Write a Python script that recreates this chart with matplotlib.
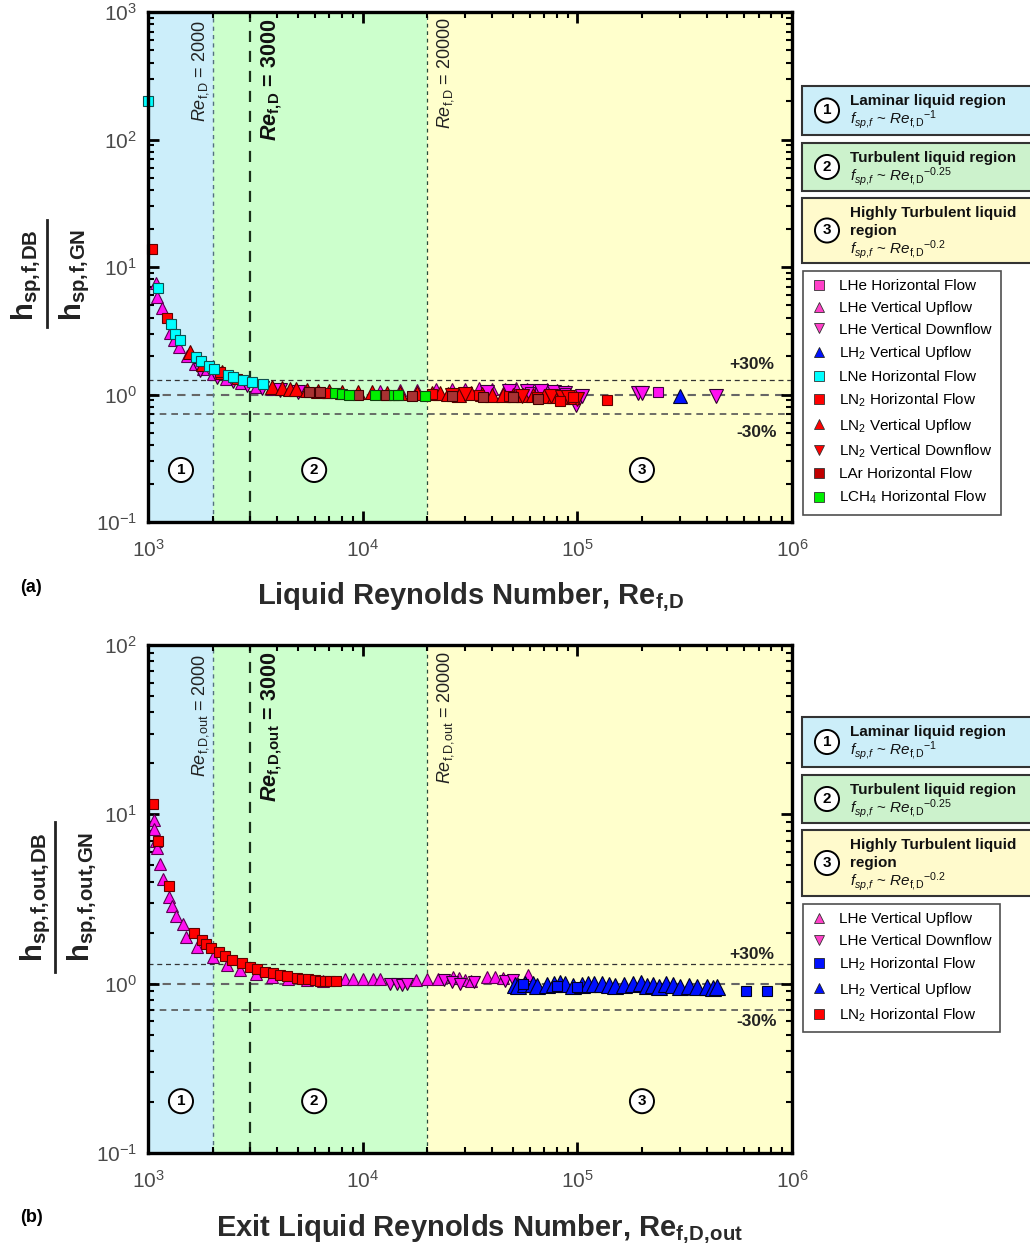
import matplotlib
matplotlib.use("Agg")
import matplotlib.pyplot as plt
from matplotlib.lines import Line2D
from matplotlib.patches import Rectangle

plt.rcParams['font.family'] = ['Liberation Sans', 'DejaVu Sans']
plt.rcParams['mathtext.fontset'] = 'custom'
plt.rcParams['mathtext.rm'] = 'Liberation Sans'
plt.rcParams['mathtext.it'] = 'Liberation Sans:italic'
plt.rcParams['mathtext.bf'] = 'Liberation Sans:bold'
plt.rcParams['mathtext.bfit'] = 'Liberation Sans:bold:italic'

## Data, panel (a)
lhe_hf_re = [60000, 88000, 238000]
lhe_hf_y = [1.04, 1.02, 1.05]
lhe_vu_re = [1090, 1105, 1162, 1270, 1320, 1400, 1520, 1650, 1800, 2000, 2300, 2700, 3200, 3800,
             12000, 15000, 18000, 22000, 26000, 30000, 35000, 40000, 46000, 52000, 58000, 65000,
             72000, 80000, 90000]
lhe_vu_y = [7.45, 5.85, 4.8, 3.05, 2.7, 2.37, 2.0, 1.75, 1.58, 1.45, 1.32, 1.22, 1.15, 1.1,
            1.07, 1.09, 1.08, 1.1, 1.11, 1.1, 1.12, 1.1, 1.11, 1.12, 1.1, 1.09, 1.1, 1.08, 1.06]
lhe_vd_re = [1750, 2100, 2500, 2900, 3400, 4100, 5000, 38000, 48000, 58000, 68000, 78000, 88000,
             99000, 105000, 192000, 199500, 442000]
lhe_vd_y = [1.55, 1.38, 1.27, 1.19, 1.13, 1.08, 1.05, 1.05, 1.06, 1.07, 1.06, 1.05, 1.03,
            0.83, 0.97, 1.02, 1.02, 0.98]
lh2_vu_re = [302000]
lh2_vu_y = [0.98]
lne_re = [1005, 1117, 1276, 1341, 1409, 1674, 1766, 1929, 2028, 2364, 2495, 2760, 3050, 3420]
lne_y = [200, 6.9, 3.55, 2.97, 2.67, 1.98, 1.83, 1.67, 1.59, 1.41, 1.37, 1.30, 1.26, 1.21]
ln2_hf_re = [1040, 1230, 2163, 2600, 6790, 21000, 35000, 48000, 64800, 83000, 95000, 137000]
ln2_hf_y = [13.8, 3.96, 1.51, 1.33, 1.02, 1.01, 0.99, 0.97, 0.95, 0.89, 0.95, 0.905]
ln2_vu_re = [1570, 1800, 2200, 3800, 4200, 4600, 4900, 5500, 6200, 7000, 8000, 9500, 11000,
             13000, 15000, 18000, 21000, 23000, 25000, 28000, 32000, 36000, 40000, 45000, 50000,
             56000, 62000, 70000, 78000, 86000, 95000]
ln2_vu_y = [2.17, 1.75, 1.5, 1.15, 1.13, 1.11, 1.1, 1.08, 1.07, 1.06, 1.05, 1.04, 1.04, 1.03,
            1.03, 1.02, 1.03, 1.02, 1.01, 1.0, 1.02, 1.01, 1.0, 1.0, 0.99, 1.0, 0.99, 0.98, 0.97,
            0.96, 0.96]
ln2_vd_re = [26000, 30000, 55000, 75000, 85000, 90000, 100000]
ln2_vd_y = [1.0, 1.01, 0.98, 0.97, 0.95, 0.96, 0.93]
lar_re = [5630, 6330, 9520, 12900, 16900, 26000, 36400, 50200, 65800]
lar_y = [1.05, 1.04, 1.0, 0.99, 0.98, 0.98, 0.95, 0.95, 0.93]
lch4_re = [7430, 8050, 8660, 11400, 14000, 14650, 19500]
lch4_y = [1.02, 1.01, 1.0, 0.99, 0.99, 0.99, 0.98]

## Data, panel (b)
lhe_vu2_re = [1066, 1070, 1085, 1100, 1137, 1178, 1251, 1290, 1345, 1460, 1508, 1683, 2015, 2323,
              2680, 3200, 3800, 4500, 5500, 6500, 8280, 9040, 10070, 11220, 12050, 17800, 19850,
              22500, 26400, 28000, 30000, 32000, 37900, 41300, 45200, 59000]
lhe_vu2_y = [9.26, 8.16, 7.0, 6.3, 5.09, 4.15, 3.27, 2.89, 2.51, 2.25, 1.89, 1.65, 1.44, 1.29,
             1.20, 1.14, 1.1, 1.07, 1.05, 1.04, 1.07, 1.07, 1.07, 1.07, 1.07, 1.05, 1.06, 1.07,
             1.1, 1.08, 1.05, 1.03, 1.09, 1.09, 1.08, 1.12]
lhe_vd2_re = [13400, 14500, 15200, 16070, 24000, 26000, 28500, 33000, 46000, 50000]
lhe_vd2_y = [0.99, 0.99, 0.98, 1.0, 1.05, 1.02, 1.0, 1.02, 1.03, 1.05]
lh2_hf2_re = [56000, 80000, 100000, 610000, 762000]
lh2_hf2_y = [0.99, 0.97, 0.96, 0.91, 0.91]
lh2_vu2_re = [51000, 53000, 57000, 62000, 65000, 72000, 78000, 83000, 88000, 95000, 105000,
              112000, 120000, 130000, 140000, 150000, 165000, 182000, 197000, 210000, 225000,
              240000, 260000, 280000, 300000, 330000, 360000, 400000, 430000, 447000]
lh2_vu2_y = [0.98, 0.97, 0.99, 1.0, 0.97, 0.98, 1.0, 1.01, 0.99, 0.97, 0.98, 0.99, 1.0, 0.99,
             0.98, 0.97, 0.98, 0.99, 1.01, 0.97, 0.98, 0.96, 1.0, 0.98, 0.96, 0.97, 0.95, 0.96,
             0.94, 0.95]
ln2_hf2_re = [1059, 1117, 1251, 1636, 1778, 1862, 1959, 2140, 2285, 2472, 2732, 3000, 3206, 3505,
              3804, 4100, 4423, 4927, 5200, 5580, 6000, 6325, 6700, 7045, 7515]
ln2_hf2_y = [11.5, 6.96, 3.78, 2.0, 1.80, 1.71, 1.63, 1.53, 1.46, 1.38, 1.32, 1.26, 1.22, 1.17,
             1.15, 1.13, 1.11, 1.08, 1.07, 1.06, 1.05, 1.04, 1.04, 1.03, 1.03]

MAG = '#FF10F0'
RED = '#FF0000'
BLUE = '#0010FF'

W, H = 1030, 1251


def fx(px):
    return px / W


def fy(py):
    return 1 - py / H


fig = plt.figure(figsize=(W / 100, H / 100), dpi=100)


def setup_axes(ax, ylim, sub):
    ax.set_xscale('log')
    ax.set_yscale('log')
    ax.set_xlim(1e3, 1e6)
    ax.set_ylim(*ylim)
    # region shading
    ax.axvspan(1e3, 2000, color='#CCEEFA', zorder=0, lw=0)
    ax.axvspan(2000, 20000, color='#CCFFCC', zorder=0, lw=0)
    ax.axvspan(20000, 1e6, color='#FFFFCC', zorder=0, lw=0)
    ax.axhline(1.3, color='#333333', ls=(0, (4, 3)), lw=0.9, zorder=1)
    ax.axhline(1.0, color='#666666', ls=(0, (4, 3)), lw=1.5, zorder=1)
    ax.axhline(0.7, color='#555555', ls=(0, (4, 3)), lw=1.2, zorder=1)
    ax.axvline(2000, color='#557080', ls=(0, (3, 3)), lw=1.0, zorder=1)
    ax.axvline(3000, color='#1a301a', ls=(0, (5, 4)), lw=1.6, zorder=1)
    ax.axvline(20000, color='#2a4a3a', ls=(0, (3, 3)), lw=0.9, zorder=1)
    for s in ax.spines.values():
        s.set_linewidth(2.4)
        s.set_zorder(5)
    ax.tick_params(which='both', direction='in', top=True, right=True, colors='black',
                   labelcolor='#4a4a4a', labelsize=15)
    ax.tick_params(which='major', length=8, width=2)
    ax.tick_params(which='minor', length=4.5, width=1.5)
    ax.tick_params(axis='x', which='major', pad=12)
    ax.tick_params(axis='y', which='major', pad=8)
    # vertical line labels
    ax.annotate(r'$Re_{\mathrm{f,\!' + sub + r'}}$ = 2000', xy=(2000, 1),
                xycoords=('data', 'axes fraction'), xytext=(-9, -6), textcoords='offset points',
                rotation=90, ha='center', va='top', fontsize=13, color='#222222')
    ax.annotate(r'$\mathbfit{Re}_{\mathbf{f,\!' + sub + r'}}$ = 3000', xy=(3000, 1),
                xycoords=('data', 'axes fraction'), xytext=(15, -5), textcoords='offset points',
                rotation=90, ha='center', va='top', fontsize=15.5, fontweight='bold',
                color='#111111')
    ax.annotate(r'$Re_{\mathrm{f,\!' + sub + r'}}$ = 20000', xy=(20000, 1),
                xycoords=('data', 'axes fraction'), xytext=(13, -4), textcoords='offset points',
                rotation=90, ha='center', va='top', fontsize=13, color='#222222')
    for xf, n in [(0.0512, '1'), (0.258, '2'), (0.767, '3')]:
        ax.text(xf, 0.102, n, transform=ax.transAxes, ha='center', va='center', fontsize=11,
                fontweight='bold', zorder=6,
                bbox=dict(boxstyle='circle,pad=0.33', fc='white', ec='black', lw=1.4))


def pts(ax, x, y, marker, fc, ec, ms):
    ax.plot(x, y, ls='none', marker=marker, mfc=fc, mec=ec, ms=ms, mew=0.8, clip_on=False,
            zorder=3)


def frac_label(xn, xb, xd, yc, ylo, yhi, num, den):
    fig.text(fx(xn), fy(yc), num, rotation=90, ha='center', va='center', fontsize=21,
             color='#222222')
    fig.text(fx(xd), fy(yc), den, rotation=90, ha='center', va='center', fontsize=21,
             color='#222222')
    fig.add_artist(Line2D([fx(xb), fx(xb)], [fy(ylo), fy(yhi)], transform=fig.transFigure,
                          color='#222222', lw=2))


def region_boxes(boxes):
    colors = ['#CCEEF9', '#CCF2CC', '#FFFACC']
    titles = [['Laminar liquid region'], ['Turbulent liquid region'],
              ['Highly Turbulent liquid', 'region']]
    expo = ['-1', '-0.25', '-0.2']
    for i, (y0, y1) in enumerate(boxes):
        fig.add_artist(Rectangle((fx(802), fy(y1)), fx(1040) - fx(802), (y1 - y0) / H,
                                 transform=fig.transFigure, fc=colors[i], ec='#333333', lw=1.5))
        fig.text(fx(827), fy((y0 + y1) / 2), str(i + 1), ha='center', va='center', fontsize=11,
                 fontweight='bold',
                 bbox=dict(boxstyle='circle,pad=0.33', fc='white', ec='black', lw=1.4))
        yy = y0 + 15
        for t in titles[i]:
            fig.text(fx(850), fy(yy), t, ha='left', va='center', fontsize=11,
                     fontweight='bold', color='#111111')
            yy += 18
        fig.text(fx(850), fy(yy + 1),
                 r'$f_{sp,\!f}$ ~ $Re_{\mathrm{f,\!D}}$$^{\mathrm{' + expo[i] + '}}$',
                 ha='left', va='center', fontsize=11, color='#111111')


def legend_handles(items):
    hs = []
    for marker, fc, ec, lab in items:
        hs.append(Line2D([], [], ls='none', marker=marker, mfc=fc, mec=ec, ms=7, mew=0.6,
                         label=lab))
    return hs


## Panel (a)
ax1 = fig.add_axes([fx(148), fy(522), 644 / W, 510 / H])
setup_axes(ax1, (0.1, 1000), 'D')
pts(ax1, lhe_vu_re, lhe_vu_y, '^', MAG, '#5a0050', 9)
pts(ax1, lhe_vd_re, lhe_vd_y, 'v', MAG, '#300030', 10)
pts(ax1, lhe_hf_re, lhe_hf_y, 's', MAG, '#400040', 7.5)
pts(ax1, lh2_vu_re, lh2_vu_y, '^', BLUE, '#000030', 10)
pts(ax1, ln2_vu_re, ln2_vu_y, '^', RED, '#500000', 10)
pts(ax1, ln2_vd_re, ln2_vd_y, 'v', RED, '#500000', 10)
pts(ax1, ln2_hf_re, ln2_hf_y, 's', RED, '#600000', 7.5)
pts(ax1, lar_re, lar_y, 's', '#A83232', '#400000', 7.5)
pts(ax1, lch4_re, lch4_y, 's', '#00F000', '#104010', 7.5)
pts(ax1, lne_re, lne_y, 's', '#00FFFF', '#105050', 7.5)
ax1.text(0.938, 0.308, '+30%', transform=ax1.transAxes, ha='center', va='center',
         fontsize=12.5, fontweight='bold', color='#222222')
ax1.text(0.945, 0.176, '-30%', transform=ax1.transAxes, ha='center', va='center',
         fontsize=12.5, fontweight='bold', color='#222222')

frac_label(27, 47, 75, 275, 220, 327, r'$\mathbf{h_{sp,\!f,\!DB}}$',
           r'$\mathbf{h_{sp,\!f,\!GN}}$')
fig.text(fx(471), fy(604), r'Liquid Reynolds Number, $\mathbf{Re_{f,\!D}}$', ha='center',
         va='baseline', fontsize=21, fontweight='bold', color='#2a2a2a')
fig.text(fx(20), fy(588), '(a)', ha='left', va='center', fontsize=13, fontweight='bold')

region_boxes([(86, 135), (143, 191), (198, 263)])
leg1 = fig.legend(handles=legend_handles([
    ('s', '#FF40C8', '#333333', 'LHe Horizontal Flow'),
    ('^', '#FF40C8', '#333333', 'LHe Vertical Upflow'),
    ('v', '#FF40C8', '#333333', 'LHe Vertical Downflow'),
    ('^', BLUE, '#222222', 'LH$_2$ Vertical Upflow'),
    ('s', '#00FFFF', '#333333', 'LNe Horizontal Flow'),
    ('s', RED, '#333333', 'LN$_2$ Horizontal Flow'),
    ('^', RED, '#333333', 'LN$_2$ Vertical Upflow'),
    ('v', RED, '#333333', 'LN$_2$ Vertical Downflow'),
    ('s', '#C00000', '#333333', 'LAr Horizontal Flow'),
    ('s', '#00F000', '#333333', 'LCH$_4$ Horizontal Flow'),
]), loc='upper left', bbox_to_anchor=(fx(803), fy(271)), frameon=True, fancybox=False,
    edgecolor='#222222', fontsize=11, labelspacing=0.5, handlelength=1.0, handletextpad=0.8,
    borderpad=0.55, borderaxespad=0)
leg1.get_frame().set_linewidth(1.2)

## Panel (b)
ax2 = fig.add_axes([fx(148), fy(1153), 644 / W, 508 / H])
setup_axes(ax2, (0.1, 100), 'D,\!out')
pts(ax2, lhe_vu2_re, lhe_vu2_y, '^', MAG, '#5a0050', 9)
pts(ax2, lhe_vd2_re, lhe_vd2_y, 'v', MAG, '#300030', 9)
pts(ax2, ln2_hf2_re, ln2_hf2_y, 's', RED, '#600000', 7.5)
pts(ax2, lh2_vu2_re, lh2_vu2_y, '^', BLUE, '#000020', 11)
pts(ax2, lh2_hf2_re, lh2_hf2_y, 's', BLUE, '#000020', 7.5)
ax2.text(0.938, 0.390, '+30%', transform=ax2.transAxes, ha='center', va='center',
         fontsize=12.5, fontweight='bold', color='#222222')
ax2.text(0.945, 0.258, '-30%', transform=ax2.transAxes, ha='center', va='center',
         fontsize=12.5, fontweight='bold', color='#222222')

frac_label(36, 55, 83, 897, 822, 972, r'$\mathbf{h_{sp,\!f,\!out,\!DB}}$',
           r'$\mathbf{h_{sp,\!f,\!out,\!GN}}$')
fig.text(fx(480), fy(1236), r'Exit Liquid Reynolds Number, $\mathbf{Re_{f,\!D,\!out}}$',
         ha='center', va='baseline', fontsize=21, fontweight='bold', color='#2a2a2a')
fig.text(fx(20), fy(1218), '(b)', ha='left', va='center', fontsize=13, fontweight='bold')

region_boxes([(717, 767), (775, 823), (830, 896)])
leg2 = fig.legend(handles=legend_handles([
    ('^', '#FF40C8', '#333333', 'LHe Vertical Upflow'),
    ('v', '#FF40C8', '#333333', 'LHe Vertical Downflow'),
    ('s', BLUE, '#222222', 'LH$_2$ Horizontal Flow'),
    ('^', BLUE, '#222222', 'LH$_2$ Vertical Upflow'),
    ('s', RED, '#333333', 'LN$_2$ Horizontal Flow'),
]), loc='upper left', bbox_to_anchor=(fx(803), fy(904)), frameon=True, fancybox=False,
    edgecolor='#222222', fontsize=11, labelspacing=0.5, handlelength=1.0, handletextpad=0.8,
    borderpad=0.55, borderaxespad=0)
leg2.get_frame().set_linewidth(1.2)

fig.savefig('out.png', dpi=100)
